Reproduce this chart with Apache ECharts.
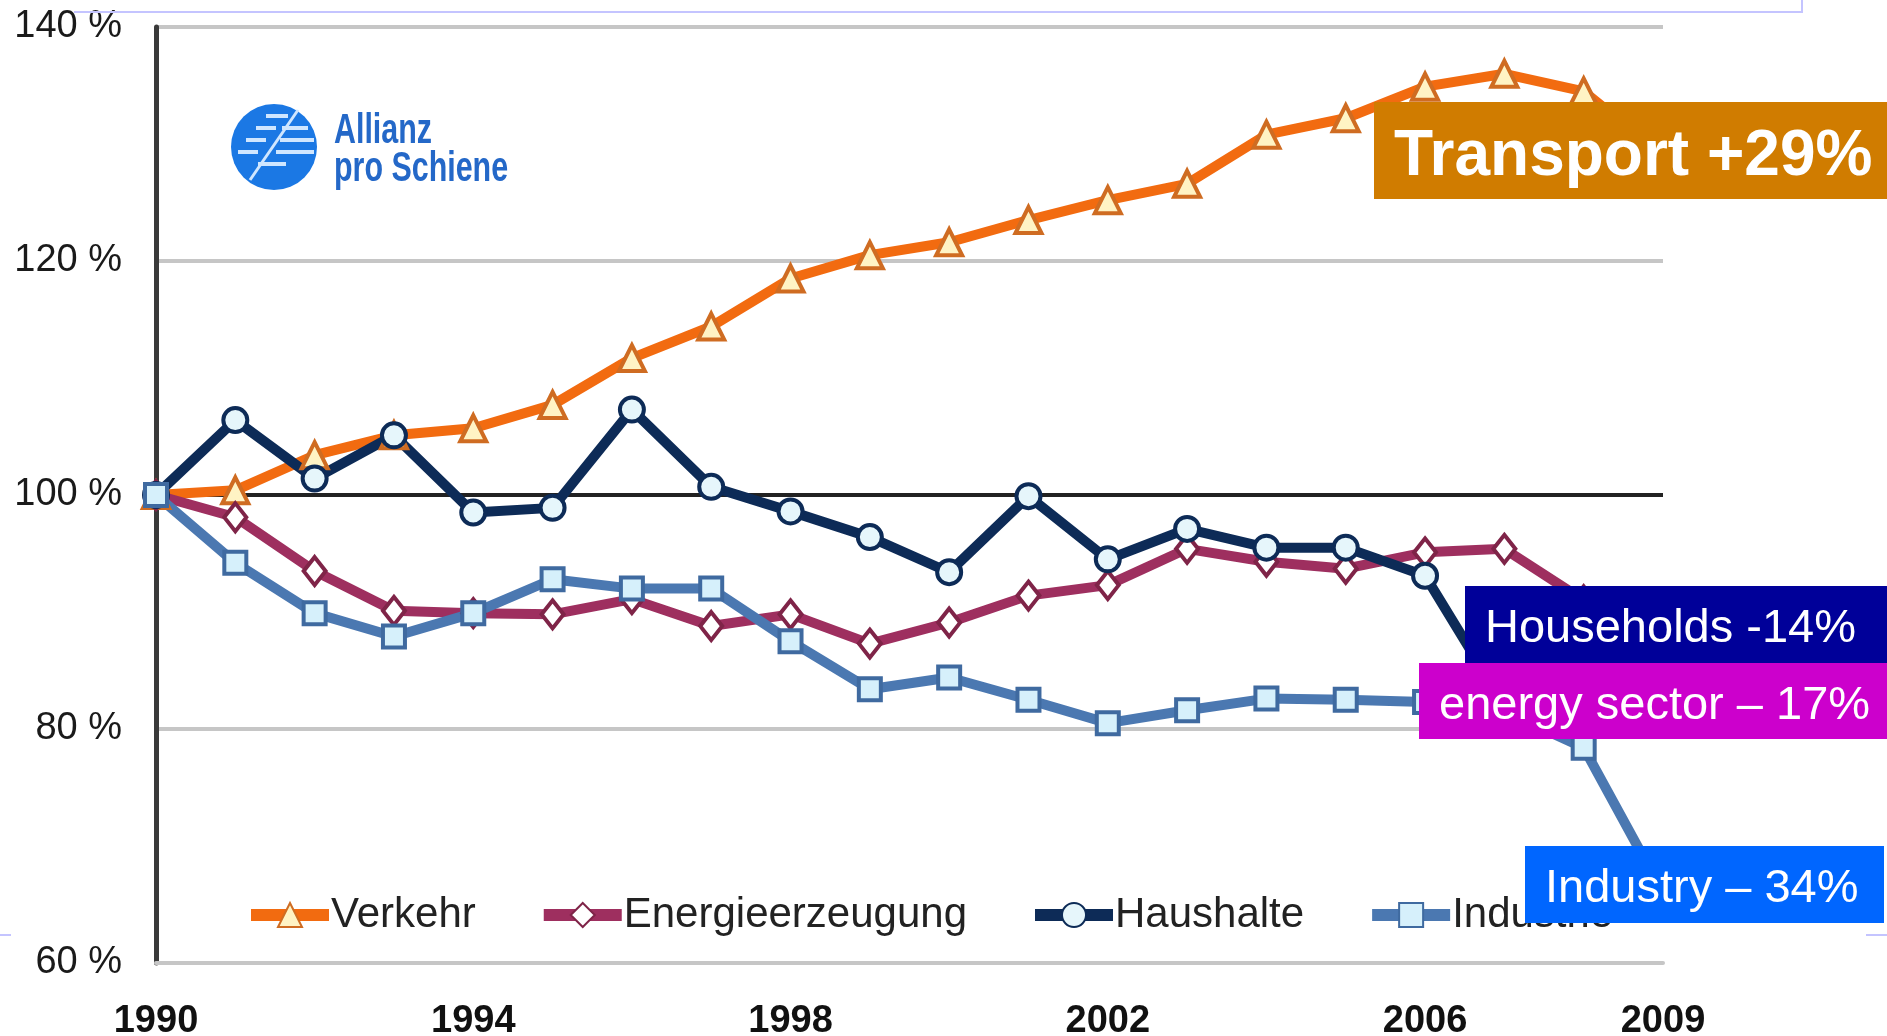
<!DOCTYPE html>
<html>
<head>
<meta charset="utf-8">
<title>CO2 Emissionen nach Sektoren 1990-2009</title>
<style>
  html, body { margin: 0; padding: 0; background: #fff; }
  #chart { width: 1887px; height: 1036px; }
</style>
<script src="https://cdn.jsdelivr.net/npm/echarts@6/dist/echarts.min.js"></script>
</head>
<body>
<div id="chart"></div>
<script>
// Jahre und Werte (Index 1990 = 100 %)
var years = ['1990', '1991', '1992', '1993', '1994', '1995', '1996', '1997', '1998', '1999',
  '2000', '2001', '2002', '2003', '2004', '2005', '2006', '2007', '2008', '2009']
var yearLabels = ['1990', '1994', '1998', '2002', '2006', '2009']
var seriesNames = ['Verkehr', 'Energieerzeugung', 'Haushalte', 'Industrie']

var verkehr = [100, 100.4, 103.4, 105.1, 105.7, 107.7, 111.7, 114.4, 118.5, 120.5,
  121.6, 123.5, 125.2, 126.6, 130.8, 132.2, 134.9, 136.0, 134.5, 129]
var energie = [100, 98.1, 93.5, 90.1, 89.9, 89.8, 91.1, 88.8, 89.8, 87.3,
  89.1, 91.4, 92.3, 95.4, 94.3, 93.7, 95.1, 95.4, 91.0, 83]
var haushalte = [100, 106.4, 101.4, 105.1, 98.5, 98.9, 107.3, 100.7, 98.6, 96.4,
  93.4, 99.9, 94.5, 97.1, 95.5, 95.5, 93.1, 82, 88, 86]
var industrie = [100, 94.2, 89.9, 87.9, 89.9, 92.8, 92.0, 92.0, 87.5, 83.4,
  84.4, 82.5, 80.5, 81.6, 82.6, 82.5, 82.3, 81.5, 78.4, 66]

// Hinweis-Kaesten rechts
var notes = [
  { text: 'Transport +29%', bg: '#d07c00', x: 1374, y: 102, w: 513, h: 97, size: 64, weight: 'bold', dy: 7 },
  { text: 'Households -14%', bg: '#000099', x: 1465, y: 586, w: 422, h: 77, size: 47, weight: 'normal', dy: 5 },
  { text: 'energy sector \u2013 17%', bg: '#cc00cc', x: 1419, y: 663, w: 468, h: 76, size: 47, weight: 'normal', dy: 5 },
  { text: 'Industry \u2013 34%', bg: '#0066ff', x: 1525, y: 846, w: 359, h: 77, size: 47, weight: 'normal', dy: 5 }
]

var FONT = '"Liberation Sans", Arial, sans-serif'

function lineSeries(name, data, symbol, size, lineColor, fill, border) {
  return {
    name: name,
    type: 'line',
    data: data,
    symbol: symbol,
    symbolSize: size,
    showAllSymbol: true,
    lineStyle: { color: lineColor, width: 10 },
    itemStyle: { color: fill, borderColor: border, borderWidth: 4 },
    emphasis: { disabled: true },
    animation: false
  }
}

var graphics = []
notes.forEach(function (n) {
  graphics.push({
    type: 'rect', z: 100,
    shape: { x: n.x, y: n.y, width: n.w, height: n.h },
    style: { fill: n.bg }
  })
  graphics.push({
    type: 'text', z: 101,
    x: n.x + 20, y: n.y + n.h / 2 + n.dy,
    style: {
      text: n.text, fill: '#fff', font: n.weight + ' ' + n.size + 'px ' + FONT,
      textVerticalAlign: 'middle'
    }
  })
})

// Logo Allianz pro Schiene
graphics.push({ type: 'circle', z: 50, shape: { cx: 274, cy: 147, r: 43 }, style: { fill: '#1b78e4' } })
graphics.push({ type: 'line', z: 51, shape: { x1: 250, y1: 180, x2: 298, y2: 110 }, style: { stroke: '#cfe6ff', lineWidth: 3 } })
;[[266, 116, 288], [256, 128, 276], [282, 128, 308], [246, 140, 266], [280, 140, 314],
  [238, 152, 258], [276, 152, 314], [258, 164, 286]].forEach(function (s) {
  graphics.push({ type: 'line', z: 51, shape: { x1: s[0], y1: s[1], x2: s[2], y2: s[1] }, style: { stroke: '#cfe6ff', lineWidth: 4 } })
})
graphics.push({
  type: 'text', z: 51, x: 334, y: 131, scaleX: 0.78, scaleY: 1.08,
  style: { text: 'Allianz', fill: '#2468c8', font: 'bold 39px ' + FONT, textVerticalAlign: 'middle' }
})
graphics.push({
  type: 'text', z: 51, x: 334, y: 169, scaleX: 0.78, scaleY: 1.08,
  style: { text: 'pro Schiene', fill: '#2468c8', font: 'bold 39px ' + FONT, textVerticalAlign: 'middle' }
})

// Folienrand (lila Linien)
graphics.push({ type: 'polyline', z: 1, shape: { points: [[74, 12], [1802, 12], [1802, 0]] }, style: { stroke: '#c4c4ff', lineWidth: 2, fill: null } })
graphics.push({ type: 'line', z: 1, shape: { x1: 0, y1: 935, x2: 11, y2: 935 }, style: { stroke: '#c4c4ff', lineWidth: 2 } })
graphics.push({ type: 'line', z: 1, shape: { x1: 1866, y1: 935, x2: 1887, y2: 935 }, style: { stroke: '#c4c4ff', lineWidth: 2 } })

var chart = echarts.init(document.getElementById('chart'), null, { renderer: 'canvas' })
chart.setOption({
  backgroundColor: '#ffffff',
  animation: false,
  grid: { left: 156, right: 224, top: 27, bottom: 73, containLabel: false, outerBoundsMode: 'none' },
  legend: {
    data: seriesNames,
    left: 240,
    top: 889,
    itemWidth: 78,
    itemHeight: 30,
    itemGap: 62,
    lineStyle: { width: 12 },
    textStyle: { fontSize: 42, color: '#222', fontFamily: FONT, padding: [0, 0, 0, -3] }
  },
  xAxis: {
    type: 'category',
    data: years,
    boundaryGap: false,
    axisLine: { show: true, lineStyle: { color: '#c6c6c6', width: 4 } },
    axisTick: { show: false },
    axisLabel: {
      margin: 40,
      fontSize: 38,
      fontWeight: 'bold',
      color: '#111',
      fontFamily: FONT,
      interval: function (index, value) {
        return yearLabels.indexOf(value) >= 0
      }
    },
    splitLine: { show: false }
  },
  yAxis: {
    type: 'value',
    min: 60,
    max: 140,
    interval: 20,
    axisLine: { show: true, lineStyle: { color: '#3a3a3a', width: 5 } },
    axisTick: { show: false },
    axisLabel: {
      margin: 34,
      fontSize: 38,
      color: '#1a1a1a',
      fontFamily: FONT,
      formatter: '{value} %'
    },
    splitLine: {
      show: true,
      lineStyle: { color: ['#c6c6c6', '#c6c6c6', '#222222', '#c6c6c6', '#c6c6c6'], width: 4 }
    }
  },
  series: [
    lineSeries('Verkehr', verkehr, 'triangle', 26, '#f26b10', '#fff3c4', '#cf6c22'),
    lineSeries('Energieerzeugung', energie, 'diamond', [22, 28], '#9e2f5f', '#ffffff', '#7f2448'),
    lineSeries('Haushalte', haushalte, 'circle', 24, '#0d2b57', '#e6f6fb', '#0d2b57'),
    lineSeries('Industrie', industrie, 'rect', 22, '#4b78b1', '#d6f0fb', '#3f6aa0')
  ],
  graphic: graphics
})
</script>
</body>
</html>
